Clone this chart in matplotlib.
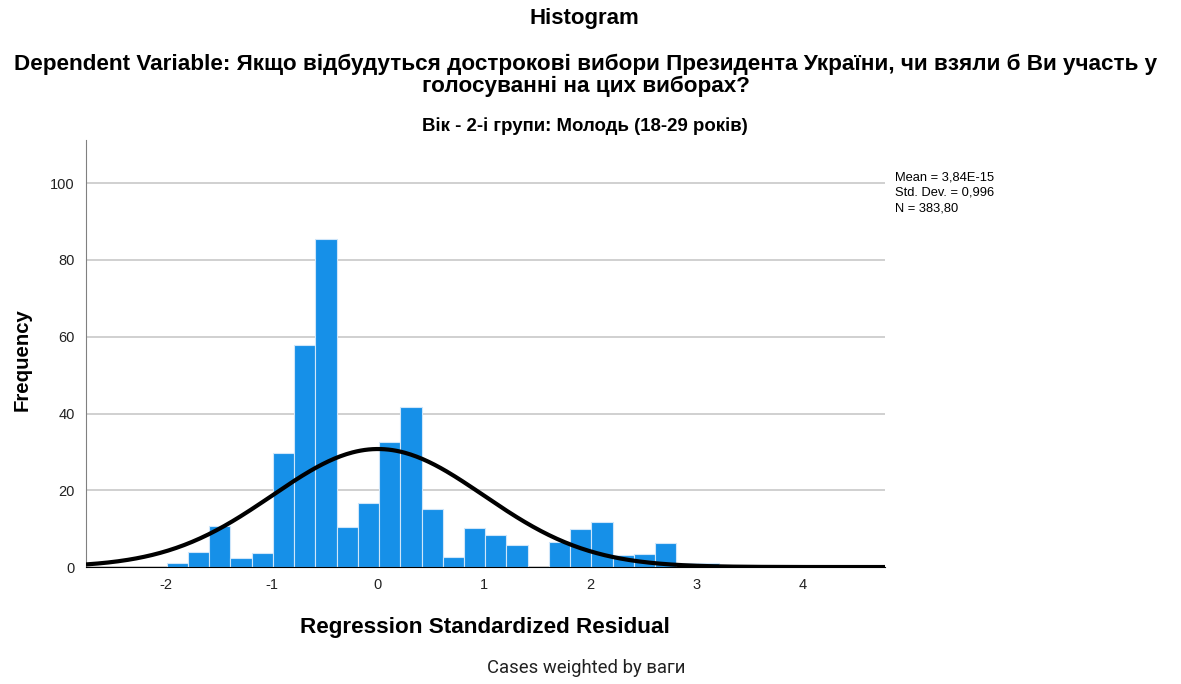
import numpy as np
import matplotlib.pyplot as plt

plt.rcParams['font.family'] = ['Liberation Sans', 'DejaVu Sans']
plt.rcParams['axes.unicode_minus'] = False

# bin edges start and width
bin_start = -1.99
bin_width = 0.2
counts = [1.1, 3.9, 10.6, 2.3, 3.7, 29.7, 57.9, 85.4, 10.5, 16.7,
          32.5, 41.8, 15.1, 2.7, 10.3, 8.3, 5.7, 0.0, 6.5, 9.9,
          11.8, 3.1, 3.3, 6.2, 1.1, 1.1]

mean = 3.84e-15
std_dev = 0.996
n_cases = 383.80

xticks = [-2, -1, 0, 1, 2, 3, 4]
yticks = [0, 20, 40, 60, 80, 100]

fig = plt.figure(figsize=(11.81, 6.84), dpi=100)
ax = fig.add_axes([0.0728, 0.171, 0.6766, 0.624])

lefts = bin_start + bin_width * np.arange(len(counts))
ax.bar(lefts, counts, width=bin_width, align='edge', color='#1690e8',
       edgecolor='#cfe6fa', linewidth=0.8, zorder=2)

# fitted normal curve from the printed statistics
xs = np.linspace(-2.75, 4.78, 400)
ys = n_cases * bin_width / (std_dev * np.sqrt(2 * np.pi)) * np.exp(-0.5 * ((xs - mean) / std_dev) ** 2)
ax.plot(xs, ys, color='black', linewidth=3, zorder=3, solid_capstyle='butt')

ax.set_xlim(-2.75, 4.775)
ax.set_ylim(0, 111.2)
ax.set_xticks(xticks)
ax.set_yticks(yticks)
ax.tick_params(length=0, labelsize=10.5, pad=8, colors='#222222')
ax.grid(axis='y', color='#c8c8c8', linewidth=1.2, zorder=0)
ax.set_axisbelow(True)
for s in ['top', 'right']:
    ax.spines[s].set_visible(False)
ax.spines['left'].set_color('#808080')
ax.spines['bottom'].set_color('black')

fig.text(0.0186, 0.475, 'Frequency', rotation=90, ha='center', va='center',
         fontsize=14.7, fontweight='bold')
fig.text(0.4107, 0.0833, 'Regression Standardized Residual', ha='center', va='center',
         fontsize=16.2, fontweight='bold')

fig.text(0.495, 0.973, 'Histogram', ha='center', va='center', fontsize=16, fontweight='bold')
fig.text(0.496, 0.890,
         'Dependent Variable: Якщо відбудуться дострокові вибори Президента України, чи взяли б Ви участь у\nголосуванні на цих виборах?',
         ha='center', va='center', fontsize=16.2, fontweight='bold', linespacing=1.08)
fig.text(0.495, 0.816, 'Вік - 2-і групи: Молодь (18-29 років)', ha='center', va='center',
         fontsize=13.4, fontweight='bold')
fig.text(0.758, 0.718, 'Mean = 3,84E-15\nStd. Dev. = 0,996\nN = 383,80', ha='left', va='center',
         fontsize=9.3, linespacing=1.36)
fig.text(0.496, 0.0234, 'Cases weighted by ваги', ha='center', va='center', fontsize=13.3,
         family=['Roboto', 'DejaVu Sans'], color='#222222')

fig.savefig('out.png', dpi=100)
